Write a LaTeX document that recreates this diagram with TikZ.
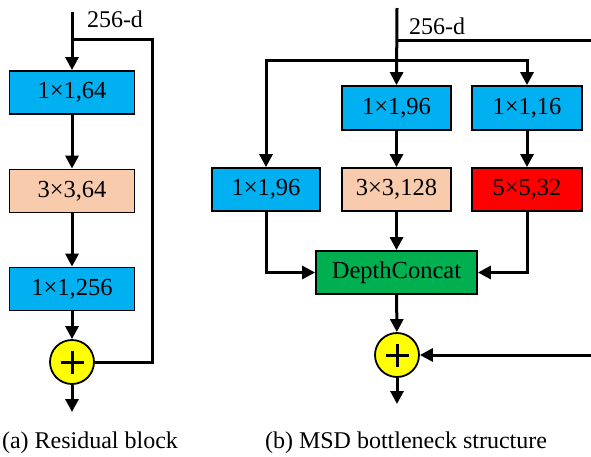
\documentclass[tikz,border=0pt]{standalone}
\usepackage{fontspec}
\setmainfont{Liberation Serif}
\usetikzlibrary{arrows.meta}
\definecolor{cblue}{HTML}{00B0F0}
\definecolor{cpeach}{HTML}{F8CBAD}
\definecolor{cred}{HTML}{FF0000}
\definecolor{cgreen}{HTML}{00B050}
\definecolor{cyellow}{HTML}{FFFF00}
\begin{document}
\begin{tikzpicture}[x=1pt,y=-1pt,
  box/.style={draw, line width=1.8pt, minimum height=43pt, inner sep=0pt,
    font=\fontsize{24.5}{28}\selectfont},
  wire/.style={line width=3pt},
  arr/.style={line width=3pt, -{Triangle[length=13pt,width=13pt]}},
  lbl/.style={font=\fontsize{24}{28}\selectfont, inner sep=0pt},
  plusnode/.style={draw, circle, line width=1.8pt, fill=cyellow, minimum size=44pt, inner sep=0pt,
    path picture={\draw[line width=3pt] ([xshift=-11.5pt]path picture bounding box.center) -- ([xshift=11.5pt]path picture bounding box.center);
      \draw[line width=3pt] ([yshift=-11.5pt]path picture bounding box.center) -- ([yshift=11.5pt]path picture bounding box.center);}}
]
\useasboundingbox (0,0) rectangle (591,456);
% ---------- (a) residual block ----------
\coordinate (atop) at (72,12);
\coordinate (aj) at (72,39);
\coordinate (ar1) at (152,39);
\coordinate (ar2) at (152,362);
\coordinate (aout) at (72,412);
\node[box, fill=cblue, minimum width=125pt] (a1) at (72,92.5) {1×1,64};
\node[box, fill=cpeach, minimum width=125pt] (a2) at (72,191) {3×3,64};
\node[box, fill=cblue, minimum width=125pt] (a3) at (72,289) {1×1,256};
\node[plusnode] (a4) at (72,362) {};
\node[lbl] (alab) at (115,19) {256-d};
\draw[arr] (atop) -- (a1.north);
\draw[arr] (a1) -- (a2);
\draw[arr] (a2) -- (a3);
\draw[arr] (a3) -- (a4);
\draw[arr] (a4) -- (aout);
\draw[wire, line join=miter] (aj) -- (ar1) -- (ar2) -- (a4.east);
\node[lbl] (acap) at (90,443) {(a) Residual block};
% ---------- (b) MSD bottleneck ----------
\coordinate (btop) at (397,8);
\coordinate (bj) at (397,40);
\coordinate (bjr) at (592,40);
\coordinate (bsplit) at (397,60);
\coordinate (bout) at (397,404);
\coordinate (bin) at (592,355);
\node[box, fill=cblue, minimum width=109pt, minimum height=44pt] (b2) at (396.5,108) {1×1,96};
\node[box, fill=cblue, minimum width=110pt, minimum height=44pt] (b3) at (527,108) {1×1,16};
\node[box, fill=cblue, minimum width=108pt] (b1) at (266,189.5) {1×1,96};
\node[box, fill=cpeach, minimum width=109pt] (b4) at (396.5,189.5) {3×3,128};
\node[box, fill=cred, minimum width=110pt] (b5) at (527,189.5) {5×5,32};
\node[box, fill=cgreen, minimum width=161pt] (bc) at (396.5,272.5) {DepthConcat};
\node[plusnode] (bp) at (397,355) {};
\node[lbl] (blab) at (437,26) {256-d};
\draw[arr] (btop) -- (b2.north);
\draw[wire] (bj) -- (bjr);
\draw[arr, line join=miter] (bsplit) -| (b1.north);
\draw[arr, line join=miter] (bsplit) -| (b3.north);
\draw[arr] (b2) -- (b4);
\draw[arr] (b3) -- (b5);
\draw[arr, line join=miter] (b1.south) |- (bc.west);
\draw[arr, line join=miter] (b5.south) |- (bc.east);
\draw[arr] (b4) -- (bc);
\draw[arr] (bc) -- (bp);
\draw[arr] (bp) -- (bout);
\draw[arr] (bin) -- (bp);
\node[lbl] (bcap) at (406,443) {(b) MSD bottleneck structure};
\end{tikzpicture}
\end{document}
